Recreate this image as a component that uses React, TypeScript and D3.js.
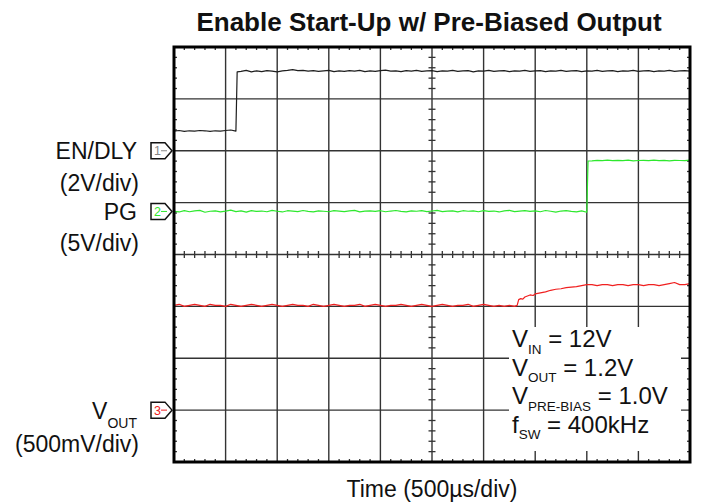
import * as d3 from "d3";

// Scope settings: 10 horizontal divisions of 500us, 8 vertical divisions
const timeDivs = 10;
const usPerDiv = 500;
const vertDivs = 8;

// Channel 1: EN/DLY, 2V/div, ground marker 2 div above centre
const enDly: [number, number][] = [
  [0, 0.76], [50, 0.78], [100, 0.75], [150, 0.77], [200, 0.76], [250, 0.78], [300, 0.77], [350, 0.75], [400, 0.77],
  [450, 0.76], [500, 0.78], [550, 0.80], [600, 0.76], [612, 3.04],
  [650, 3.06], [700, 3.10], [750, 3.04], [800, 3.08], [850, 3.05], [900, 3.09], [950, 3.07], [1000, 3.04], [1050, 3.08], [1100, 3.10],
  [1150, 3.13], [1200, 3.09], [1250, 3.10], [1300, 3.07], [1350, 3.09], [1400, 3.06], [1450, 3.08], [1500, 3.10], [1550, 3.05], [1600, 3.08],
  [1650, 3.06], [1700, 3.09], [1750, 3.07], [1800, 3.10], [1850, 3.05], [1900, 3.08], [1950, 3.06], [2000, 3.09], [2050, 3.11], [2100, 3.07],
  [2150, 3.08], [2200, 3.05], [2250, 3.09], [2300, 3.07], [2350, 3.10], [2400, 3.06], [2450, 3.08], [2500, 3.09], [2550, 3.05], [2600, 3.08],
  [2650, 3.07], [2700, 3.10], [2750, 3.06], [2800, 3.08], [2850, 3.09], [2900, 3.04], [2950, 3.08], [3000, 3.07], [3050, 3.10], [3100, 3.06],
  [3150, 3.08], [3200, 3.09], [3250, 3.05], [3300, 3.08], [3350, 3.07], [3400, 3.10], [3450, 3.06], [3500, 3.08], [3550, 3.09], [3600, 3.05],
  [3650, 3.08], [3700, 3.07], [3750, 3.10], [3800, 3.06], [3850, 3.08], [3900, 3.09], [3950, 3.05], [4000, 3.08], [4050, 3.07], [4100, 3.10],
  [4150, 3.06], [4200, 3.08], [4250, 3.09], [4300, 3.05], [4350, 3.08], [4400, 3.07], [4450, 3.10], [4500, 3.06], [4550, 3.08], [4600, 3.09],
  [4650, 3.05], [4700, 3.08], [4750, 3.07], [4800, 3.10], [4850, 3.06], [4900, 3.08], [4950, 3.09], [5000, 3.07],
];

// Channel 2: PG, 5V/div
const pg: [number, number][] = [
  [0, 0.00], [50, -0.05], [100, 0.08], [150, -0.03], [200, 0.05], [250, 0.10], [300, -0.08], [350, 0.02], [400, 0.06], [450, -0.04],
  [500, 0.03], [550, 0.12], [600, -0.02], [650, 0.05], [700, -0.06], [750, 0.08], [800, 0.00], [850, 0.04], [900, -0.03], [950, 0.10],
  [1000, 0.02], [1050, -0.05], [1100, 0.07], [1150, 0.03], [1200, -0.02], [1250, 0.09], [1300, 0.01], [1350, -0.04], [1400, 0.06], [1450, 0.02],
  [1500, -0.03], [1550, 0.08], [1600, 0.04], [1650, -0.01], [1700, 0.05], [1750, 0.11], [1800, -0.04], [1850, 0.03], [1900, 0.06], [1950, 0.00],
  [2000, 0.07], [2050, -0.03], [2100, 0.04], [2150, 0.09], [2200, 0.01], [2250, -0.05], [2300, 0.05], [2350, 0.02], [2400, 0.08], [2450, -0.02],
  [2500, 0.04], [2550, 0.10], [2600, -0.01], [2650, 0.03], [2700, 0.06], [2750, -0.04], [2800, 0.07], [2850, 0.02], [2900, 0.05], [2950, -0.03],
  [3000, 0.08], [3050, 0.01], [3100, 0.04], [3150, -0.05], [3200, 0.06], [3250, 0.10], [3300, -0.02], [3350, 0.03], [3400, 0.07], [3450, 0.00],
  [3500, 0.05], [3550, -0.03], [3600, 0.09], [3650, 0.02], [3700, -0.06], [3750, 0.04], [3800, 0.08], [3850, 0.01], [3900, -0.04], [3950, 0.06],
  [4000, -0.08], [4012, 4.86],
  [4050, 4.88], [4100, 4.93], [4150, 4.90], [4200, 4.95], [4250, 4.89], [4300, 4.92], [4350, 4.90], [4400, 4.94], [4450, 4.87], [4500, 4.91],
  [4550, 4.93], [4600, 4.89], [4650, 4.95], [4700, 4.90], [4750, 4.92], [4800, 4.88], [4850, 4.93], [4900, 4.91], [4950, 4.89], [5000, 4.94],
];

// Channel 3: VOUT, 500mV/div
const vout: [number, number][] = [
  [0, 1.01], [50, 1.02], [100, 1.00], [150, 1.01], [200, 1.02], [250, 1.01], [300, 1.00], [350, 1.02], [400, 1.01], [450, 1.01],
  [500, 1.00], [550, 1.02], [600, 1.01], [650, 1.00], [700, 1.01], [750, 1.02], [800, 1.01], [850, 1.00], [900, 1.01], [950, 1.02],
  [1000, 1.01], [1050, 1.00], [1100, 1.01], [1150, 1.02], [1200, 1.01], [1250, 1.01], [1300, 1.00], [1350, 1.02], [1400, 1.01], [1450, 1.00],
  [1500, 1.01], [1550, 1.02], [1600, 1.01], [1650, 1.00], [1700, 1.01], [1750, 1.01], [1800, 1.02], [1850, 1.00], [1900, 1.01], [1950, 1.02],
  [2000, 1.01], [2050, 1.00], [2100, 1.01], [2150, 1.01], [2200, 1.02], [2250, 1.01], [2300, 1.00], [2350, 1.01], [2400, 1.02], [2450, 1.01],
  [2500, 1.00], [2550, 1.01], [2600, 1.02], [2650, 1.01], [2700, 1.00], [2750, 1.01], [2800, 1.01], [2850, 1.02], [2900, 1.00], [2950, 1.01],
  [3000, 1.02], [3050, 1.01], [3100, 1.00], [3150, 1.01], [3200, 1.00], [3250, 1.01], [3300, 1.00],
  [3325, 1.01], [3340, 1.065], [3360, 1.075], [3380, 1.07], [3400, 1.09], [3450, 1.11], [3480, 1.105], [3500, 1.12], [3550, 1.13],
  [3600, 1.14], [3650, 1.155], [3700, 1.165], [3750, 1.17], [3800, 1.18], [3850, 1.185], [3900, 1.19], [3950, 1.20], [4000, 1.21],
  [4050, 1.21], [4100, 1.20], [4150, 1.21], [4200, 1.21], [4250, 1.20], [4300, 1.21], [4350, 1.21], [4400, 1.20], [4450, 1.21], [4500, 1.21],
  [4550, 1.20], [4600, 1.21], [4650, 1.21], [4700, 1.20], [4750, 1.21], [4800, 1.22], [4850, 1.23], [4900, 1.21], [4950, 1.21], [5000, 1.22],
];

const channels = [
  { id: "1", data: enDly, offsetDiv: 2, voltsPerDiv: 2, color: "#1e1e1e", markerText: "#888888", label: "EN/DLY", scaleLabel: "(2V/div)" },
  { id: "2", data: pg, offsetDiv: 0.83, voltsPerDiv: 5, color: "#2ee82e", markerText: "#2ee82e", label: "PG", scaleLabel: "(5V/div)" },
  { id: "3", data: vout, offsetDiv: -3, voltsPerDiv: 0.5, color: "#f02020", markerText: "#f02020", label: "V", sub: "OUT", scaleLabel: "(500mV/div)" },
];

const conditions = [
  { main: "V", sub: "IN", rest: "= 12V" },
  { main: "V", sub: "OUT", rest: "= 1.2V" },
  { main: "V", sub: "PRE-BIAS", rest: "= 1.0V" },
  { main: "f", sub: "SW", rest: "= 400kHz" },
];

const title = "Enable Start-Up w/ Pre-Biased Output";
const xLabel = "Time (500\u00b5s/div)";

const W = 701;
const H = 504;
const left = 174;
const right = 690;
const top = 47;
const bottom = 462;
const font = "Arial, 'Liberation Sans', sans-serif";

export default function App() {
  const x = d3.scaleLinear().domain([0, timeDivs * usPerDiv]).range([left, right]);
  const y = d3.scaleLinear().domain([-vertDivs / 2, vertDivs / 2]).range([bottom, top]);
  const gridColor = "#333";

  const vLines = d3.range(1, timeDivs).map((i) => x(i * usPerDiv));
  const hLines = d3.range(-vertDivs / 2 + 1, vertDivs / 2).map((d) => y(d));
  const minorX = d3.range(1, timeDivs * 5).filter((i) => i % 5 !== 0).map((i) => x((i * usPerDiv) / 5));
  const minorY = d3.range(1, vertDivs * 5).filter((i) => i % 5 !== 0).map((i) => y(-vertDivs / 2 + i / 5));
  const cx = x((timeDivs / 2) * usPerDiv);
  const cy = y(0);

  const lineFor = (off: number, vpd: number) =>
    d3.line<[number, number]>()
      .x((d) => x(d[0]))
      .y((d) => y(off + d[1] / vpd));

  return (
    <svg width={W} height={H} style={{ position: "absolute", left: 0, top: 0, background: "#fff" }} fontFamily={font}>
      <text x={429} y={31} textAnchor="middle" fontSize={26} fontWeight="bold" fill="#111">{title}</text>

      {/* grid */}
      {vLines.map((vx, i) => (
        <line key={"v" + i} x1={vx} x2={vx} y1={top} y2={bottom} stroke={gridColor} strokeWidth={1.4} />
      ))}
      {hLines.map((hy, i) => (
        <line key={"h" + i} x1={left} x2={right} y1={hy} y2={hy} stroke={gridColor} strokeWidth={1.4} />
      ))}
      {/* minor ticks along frame edges and centre lines */}
      {minorX.map((mx, i) => (
        <g key={"mx" + i} stroke={gridColor} strokeWidth={1.3}>
          <line x1={mx} x2={mx} y1={top} y2={top + 3} />
          <line x1={mx} x2={mx} y1={bottom - 3} y2={bottom} />
          <line x1={mx} x2={mx} y1={cy - 3.5} y2={cy + 3.5} />
        </g>
      ))}
      {minorY.map((my, i) => (
        <g key={"my" + i} stroke={gridColor} strokeWidth={1.3}>
          <line x1={left} x2={left + 3} y1={my} y2={my} />
          <line x1={right - 3} x2={right} y1={my} y2={my} />
          <line x1={cx - 3.5} x2={cx + 3.5} y1={my} y2={my} />
        </g>
      ))}

      {/* traces */}
      {channels.map((c) => (
        <path key={"t" + c.id} d={lineFor(c.offsetDiv, c.voltsPerDiv)(c.data) || ""} fill="none" stroke={c.color} strokeWidth={1.2} strokeLinejoin="round" />
      ))}

      {/* conditions box */}
      <rect x={509} y={327} width={172} height={124} fill="#fff" />
      {conditions.map((c, i) => (
        <text key={"c" + i} x={512} y={347 + i * 28.5} fontSize={24} fill="#111">
          {c.main}
          <tspan fontSize={13.5} dy={6.5}>{c.sub}</tspan>
          <tspan dy={-6.5}>{" " + c.rest}</tspan>
        </text>
      ))}

      {/* frame */}
      <rect x={left} y={top} width={right - left} height={bottom - top} fill="none" stroke="#000" strokeWidth={3} />

      {/* channel markers and labels */}
      {channels.map((c) => {
        const my = y(c.offsetDiv);
        const pts = [[151, my - 8], [165, my - 8], [172, my], [165, my + 8], [151, my + 8]];
        return (
          <g key={"m" + c.id}>
            <polygon points={pts.map((p) => p.join(",")).join(" ")} fill="#fff" stroke="#111" strokeWidth={1.5} />
            <text x={154} y={my + 4.5} fontSize={12.5} fill={c.markerText}>{c.id}</text>
            <line x1={161} x2={167} y1={my} y2={my} stroke={c.markerText} strokeWidth={1} />
            <text x={137} y={my + 8.5} textAnchor="end" fontSize={23} fill="#111">
              {c.label}
              {c.sub ? <tspan fontSize={14} dy={9}>{c.sub}</tspan> : null}
            </text>
            <text x={139} y={my + (c.sub ? 42 : 40)} textAnchor="end" fontSize={23} fill="#111">{c.scaleLabel}</text>
          </g>
        );
      })}

      <text x={432} y={497} textAnchor="middle" fontSize={23} fill="#111">{xLabel}</text>
    </svg>
  );
}
